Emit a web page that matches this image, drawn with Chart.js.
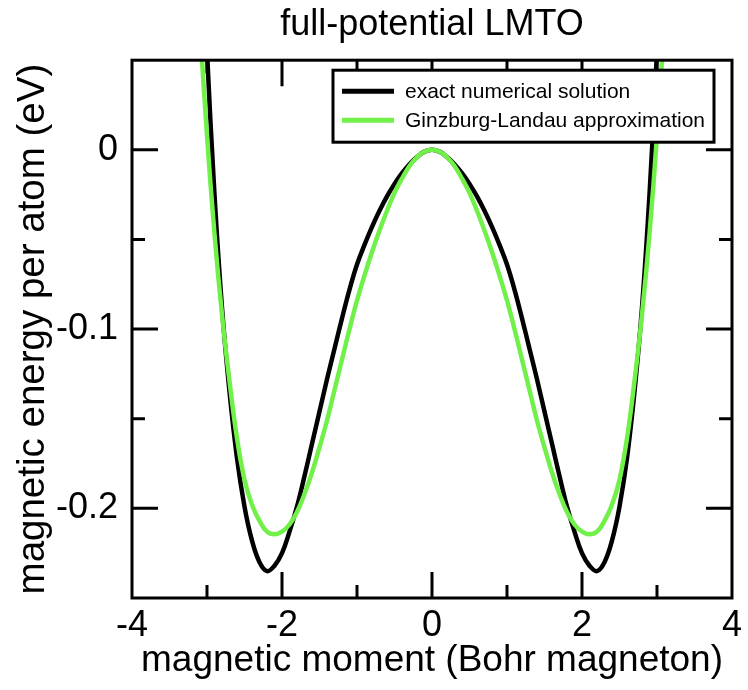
<!DOCTYPE html>
<html>
<head>
<meta charset="utf-8">
<script src="https://cdn.jsdelivr.net/npm/chart.js@4.4.1/dist/chart.umd.min.js"></script>
<style>
html, body { margin: 0; padding: 0; background: #fff; }
#wrap { width: 748px; height: 690px; }
</style>
</head>
<body>
<div id="wrap"><canvas id="canvas1" width="748" height="690"></canvas></div>
<script>
var FUENTE = "'Liberation Sans', Arial, Helvetica, sans-serif";

// magnetic moment (Bohr magneton)
var momento = [-3.1, -3.0, -2.9, -2.8, -2.7, -2.6, -2.5, -2.4, -2.3, -2.2, -2.1,
               -2.0, -1.9, -1.8, -1.7, -1.6, -1.5, -1.4, -1.3, -1.2, -1.1,
               -1.0, -0.9, -0.8, -0.7, -0.6, -0.5, -0.4, -0.3, -0.2, -0.1,
               0.0,
               0.1, 0.2, 0.3, 0.4, 0.5, 0.6, 0.7, 0.8, 0.9, 1.0,
               1.1, 1.2, 1.3, 1.4, 1.5, 1.6, 1.7, 1.8, 1.9, 2.0,
               2.1, 2.2, 2.3, 2.4, 2.5, 2.6, 2.7, 2.8, 2.9, 3.0, 3.1];

// exact numerical solution (eV per atom)
var energiaExacta = [0.150, 0.055, -0.025, -0.088, -0.135, -0.172, -0.199, -0.218, -0.230, -0.235, -0.232,
                     -0.225, -0.213, -0.199, -0.182, -0.164, -0.146, -0.128, -0.111, -0.094, -0.078,
                     -0.064, -0.053, -0.043, -0.034, -0.026, -0.019, -0.013, -0.008, -0.004, -0.001,
                     0.0,
                     -0.001, -0.004, -0.008, -0.013, -0.019, -0.026, -0.034, -0.043, -0.053, -0.064,
                     -0.078, -0.094, -0.111, -0.128, -0.146, -0.164, -0.182, -0.199, -0.213, -0.225,
                     -0.232, -0.235, -0.230, -0.218, -0.199, -0.172, -0.135, -0.088, -0.025, 0.055, 0.150];

// Ginzburg-Landau approximation (eV per atom)
var energiaGL = [0.072, 0.008, -0.047, -0.092, -0.129, -0.161, -0.184, -0.198, -0.207, -0.213, -0.2145,
                 -0.213, -0.209, -0.202, -0.192, -0.180, -0.166, -0.151, -0.134, -0.117, -0.100,
                 -0.084, -0.070, -0.057, -0.045, -0.034, -0.024, -0.016, -0.009, -0.004, -0.001,
                 0.0,
                 -0.001, -0.004, -0.009, -0.016, -0.024, -0.034, -0.045, -0.057, -0.070, -0.084,
                 -0.100, -0.117, -0.134, -0.151, -0.166, -0.180, -0.192, -0.202, -0.209, -0.213,
                 -0.2145, -0.213, -0.207, -0.198, -0.184, -0.161, -0.129, -0.092, -0.047, 0.008, 0.072];

var etiquetas = ["exact numerical solution", "Ginzburg-Landau approximation"];
var colores = ["#000000", "#72f04a"];

var ticksX = [-4, -2, 0, 2, 4];
var ticksY = [-0.2, -0.1, 0];
var menoresX = [-3, -1, 1, 3];
var menoresY = [-0.15, -0.05];
var mayoresX = [-2, 0, 2];

function puntos(valores)
{
    var lista = [];
    for(var i = 0; i < momento.length; i++)
    {
        lista.push({x: momento[i], y: valores[i]});
    }
    return lista;
}

// frame with inward ticks on all four sides
var marcoPlugin = {
    id: 'marco',
    afterDatasetsDraw: function(chart)
    {
        var ctx = chart.ctx;
        var a = chart.chartArea;
        var sx = chart.scales.x;
        var sy = chart.scales.y;
        ctx.save();
        ctx.strokeStyle = "#000";
        ctx.lineWidth = 3;
        ctx.lineCap = "butt";
        ctx.strokeRect(a.left, a.top, a.right - a.left, a.bottom - a.top);
        ctx.beginPath();
        var i, p;
        for(i = 0; i < mayoresX.length; i++)
        {
            p = sx.getPixelForValue(mayoresX[i]);
            ctx.moveTo(p, a.bottom); ctx.lineTo(p, a.bottom - 26);
            ctx.moveTo(p, a.top); ctx.lineTo(p, a.top + 26);
        }
        for(i = 0; i < menoresX.length; i++)
        {
            p = sx.getPixelForValue(menoresX[i]);
            ctx.moveTo(p, a.bottom); ctx.lineTo(p, a.bottom - 13);
            ctx.moveTo(p, a.top); ctx.lineTo(p, a.top + 13);
        }
        for(i = 0; i < ticksY.length; i++)
        {
            p = sy.getPixelForValue(ticksY[i]);
            ctx.moveTo(a.left, p); ctx.lineTo(a.left + 26, p);
            ctx.moveTo(a.right, p); ctx.lineTo(a.right - 26, p);
        }
        for(i = 0; i < menoresY.length; i++)
        {
            p = sy.getPixelForValue(menoresY[i]);
            ctx.moveTo(a.left, p); ctx.lineTo(a.left + 13, p);
            ctx.moveTo(a.right, p); ctx.lineTo(a.right - 13, p);
        }
        ctx.stroke();
        ctx.restore();
    }
};

// boxed legend in the upper right corner
var leyendaPlugin = {
    id: 'leyenda',
    afterDatasetsDraw: function(chart)
    {
        var ctx = chart.ctx;
        var a = chart.chartArea;
        var bx = a.left + 201;
        var by = a.top + 10;
        ctx.save();
        ctx.fillStyle = "#fff";
        ctx.fillRect(bx, by, 381, 72);
        ctx.strokeStyle = "#000";
        ctx.lineWidth = 3;
        ctx.strokeRect(bx, by, 381, 72);
        ctx.font = "21px " + FUENTE;
        ctx.textBaseline = "middle";
        ctx.textAlign = "left";
        for(var i = 0; i < etiquetas.length; i++)
        {
            var ly = by + 21 + i * 29;
            ctx.beginPath();
            ctx.strokeStyle = colores[i];
            ctx.lineWidth = 5;
            ctx.moveTo(bx + 9, ly);
            ctx.lineTo(bx + 61, ly);
            ctx.stroke();
            ctx.fillStyle = "#000";
            ctx.fillText(etiquetas[i], bx + 72, ly + 1);
        }
        ctx.restore();
    }
};

var ctx = document.getElementById("canvas1");
new Chart(ctx, {
    type: 'line',
    data: {
        datasets: [{
            label: etiquetas[0],
            data: puntos(energiaExacta),
            borderColor: colores[0],
            borderWidth: 4.5,
            pointRadius: 0,
            fill: false,
            tension: 0.4,
            order: 2
        }, {
            label: etiquetas[1],
            data: puntos(energiaGL),
            borderColor: colores[1],
            borderWidth: 4.5,
            pointRadius: 0,
            fill: false,
            tension: 0.4,
            order: 1
        }]
    },
    options: {
        animation: false,
        responsive: false,
        maintainAspectRatio: false,
        layout: { padding: { left: 0, right: 7, top: 0, bottom: 0 } },
        plugins: {
            legend: { display: false },
            tooltip: { enabled: false },
            title: {
                display: true,
                text: 'full-potential LMTO',
                fullSize: false,
                color: '#000',
                font: { family: FUENTE, size: 36, weight: 'normal' },
                padding: { top: 3, bottom: 14 }
            }
        },
        scales: {
            x: {
                type: 'linear',
                min: -4,
                max: 4,
                grid: { display: false, drawTicks: false, tickLength: 0 },
                border: { display: false },
                afterBuildTicks: function(s) { s.ticks = ticksX.map(function(v){ return {value: v}; }); },
                afterFit: function(s) { s.height = 92; },
                ticks: {
                    color: '#000',
                    padding: 6,
                    maxRotation: 0,
                    autoSkip: false,
                    font: { family: FUENTE, size: 36 },
                    callback: function(v) { return String(v); }
                },
                title: {
                    display: true,
                    text: 'magnetic moment (Bohr magneton)',
                    color: '#000',
                    font: { family: FUENTE, size: 37 },
                    padding: { top: 0, bottom: 7 }
                }
            },
            y: {
                type: 'linear',
                min: -0.25,
                max: 0.05,
                grid: { display: false, drawTicks: false, tickLength: 0 },
                border: { display: false },
                afterBuildTicks: function(s) { s.ticks = ticksY.map(function(v){ return {value: v}; }); },
                afterFit: function(s) { s.width = 132; },
                ticks: {
                    color: '#000',
                    padding: 14,
                    autoSkip: false,
                    font: { family: FUENTE, size: 36 },
                    callback: function(v) { return String(v); }
                },
                title: {
                    display: true,
                    text: 'magnetic energy per atom (eV)',
                    color: '#000',
                    font: { family: FUENTE, size: 38.5 },
                    padding: { top: 10, bottom: 0 }
                }
            }
        }
    },
    plugins: [marcoPlugin, leyendaPlugin]
});
</script>
</body>
</html>
